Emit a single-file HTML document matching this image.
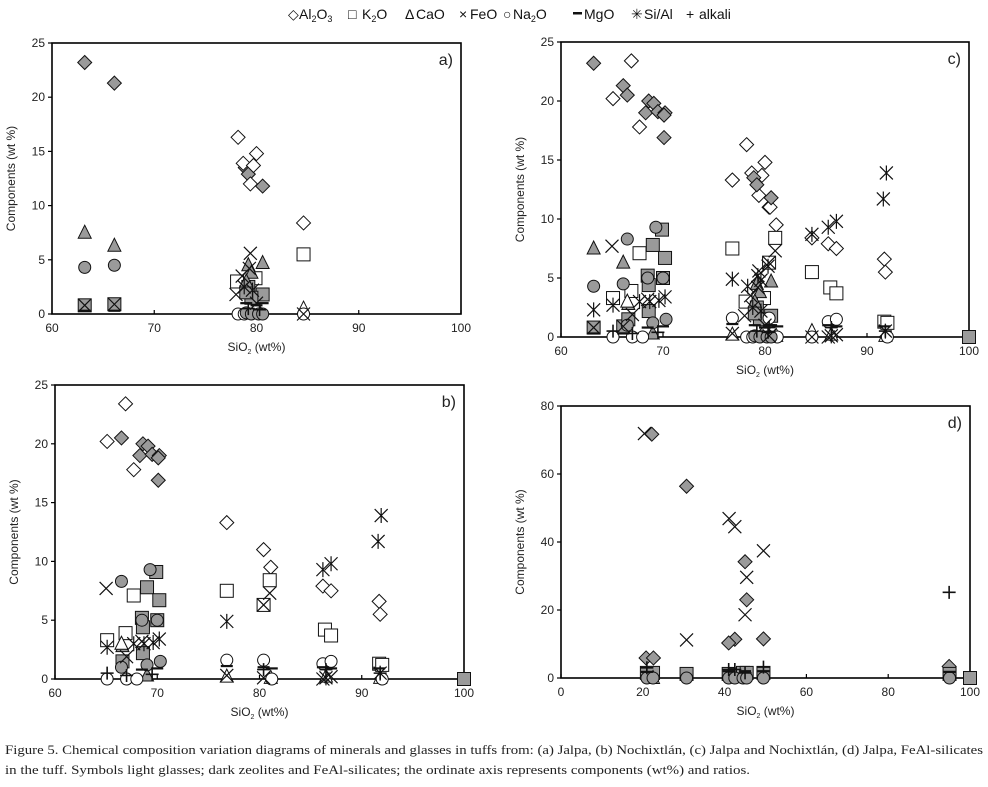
<!DOCTYPE html>
<html><head><meta charset="utf-8"><style>
html,body{margin:0;padding:0;background:#fff;}
svg{display:block;}
</style></head><body>
<svg id="fig" width="988" height="787" viewBox="0 0 988 787" xmlns="http://www.w3.org/2000/svg" font-family="Liberation Sans, sans-serif">
<g font-size="14" fill="#111">
<g><text x="288" y="19">◇</text><text x="299" y="19">Al<tspan font-size="9" dy="3">2</tspan><tspan dy="-3">O</tspan><tspan font-size="9" dy="3">3</tspan></text></g>
<g><text x="348" y="19">□</text><text x="362" y="19">K<tspan font-size="9" dy="3">2</tspan><tspan dy="-3">O</tspan></text></g>
<g><text x="405" y="19">Δ</text><text x="416" y="19">CaO</text></g>
<g><text x="459" y="19">×</text><text x="470" y="19">FeO</text></g>
<g><text x="503" y="19">○</text><text x="513" y="19">Na<tspan font-size="9" dy="3">2</tspan><tspan dy="-3">O</tspan></text></g>
<g><rect x="573" y="12" width="9" height="2.5" fill="#111"/><text x="584" y="19">MgO</text></g>
<g><text x="631" y="19">✳</text><text x="644" y="19">Si/Al</text></g>
<g><text x="686" y="19">+</text><text x="699" y="19">alkali</text></g>
</g>
<g id="panels"></g>
<g font-family="Liberation Serif, serif" font-size="13" fill="#222">
<text x="5" y="754" textLength="978" lengthAdjust="spacingAndGlyphs">Figure 5. Chemical composition variation diagrams of minerals and glasses in tuffs from: (a) Jalpa, (b) Nochixtlán, (c) Jalpa and Nochixtlán, (d) Jalpa, FeAl-silicates</text>
<text x="5" y="774" textLength="745" lengthAdjust="spacingAndGlyphs">in the tuff. Symbols light glasses; dark zeolites and FeAl-silicates; the ordinate axis represents components (wt%) and ratios.</text>
</g>
</svg>
<script>
// ---- Panel a data ----
const aAlDark=[[63.2,23.2],[66.1,21.3],[78.9,13.5],[79.2,12.9],[80.6,11.8]];
const aAlLight=[[78.2,16.3],[80,14.8],[78.7,13.9],[79.7,13.7],[79.4,12.0],[84.6,8.4]];
const aKDark=[[63.2,0.8],[66.1,0.9],[79.2,2.5],[80.6,1.8],[79.5,1.5],[79.0,2.0]];
const aKLight=[[78.1,3.0],[79.9,3.3],[84.6,5.5]];
const aCaDark=[[63.2,7.5],[66.1,6.3],[80.6,4.7],[79.2,4.5],[79.5,3.8],[79,3.0]];
const aCaLight=[[84.6,0.5]];
const aFe=[[63.2,0.8],[66.1,0.9],[79.4,5.6],[79.3,4.2],[78.6,3.5],[78.0,1.8],[80,1.0],[84.6,0]];
const aNaDark=[[63.2,4.3],[66.1,4.5],[79,0.1],[79.5,0],[80.2,0],[80.6,0]];
const aNaLight=[[78.2,0],[78.8,0],[84.6,0]];
const aMg=[[63.2,0.3],[66.1,0.3],[79,1.0],[80,0.8],[80.6,1.0]];
const aSiAl=[[78.8,2.5],[79.6,2.2]];
const aAlk=[[79.2,0.5],[80.3,0.4]];
// ---- Panel b data ----
const bAlLight=[[66.9,23.4],[65.1,20.2],[67.7,17.8],[76.8,13.3],[80.4,11.0],[81.1,9.5],[86.2,7.9],[87,7.5],[91.7,6.6],[91.8,5.5]];
const bAlDark=[[66.5,20.5],[68.6,20.0],[69.1,19.8],[68.3,19.0],[69.5,19.1],[70.2,19.0],[70.1,18.8],[70.1,16.9]];
const bKDark=[[69.9,9.1],[69,7.8],[70.2,6.7],[68.5,5.2],[68.6,4.4],[70,5.0],[68.6,2.2],[66.6,1.5],[100,0]];
const bKLight=[[67.7,7.1],[76.8,7.5],[81,8.4],[80.4,6.3],[86.4,4.2],[87,3.7],[65.1,3.3],[66.9,3.9],[91.7,1.3],[92,1.2]];
const bCaDark=[[66.6,2.8],[69,0.3]];
const bCaLight=[[76.8,0.2],[66.5,3.0],[81.1,0.1],[86.5,0.2],[91.8,0.1]];
const bFe=[[65,7.7],[81,7.3],[80.4,6.3],[67,1.9],[68.5,3.2],[76.8,0.3],[80.4,0.1],[86.2,0],[87,0.2]];
const bNaDark=[[66.5,8.3],[69.3,9.3],[68.5,5.0],[70,5.0],[70.3,1.5],[66.5,1.0],[69,1.2]];
const bNaLight=[[76.8,1.6],[80.4,1.6],[86.2,1.3],[87,1.5],[65.1,0],[67,0],[68,0],[81.2,0],[92,0]];
const bMg=[[76.8,1.1],[80.4,1.0],[81.2,0.9],[86.2,1.0],[87,0.9],[91.7,0.9],[68.5,0.8],[70,0.9]];
const bSiAl=[[76.8,4.9],[91.9,13.9],[91.6,11.7],[87,9.8],[86.2,9.3],[65.1,2.7],[67.7,3.0],[68.7,3.0],[69.6,3.1],[70.2,3.4],[86.5,0.1],[91.8,0.5]];
const bAlk=[[65.1,0.5],[80.4,0.8],[86.5,0.8],[91.8,0.5],[67,0.3],[69.5,0.4]];
// ---- Panel c extras (c = a + b + these) ----
const cSiAlExtra=[[84.6,8.7],[63.2,2.3],[79.3,5.2],[79.6,4.8],[80.3,6.0],[78.3,4.3]];
const cAlLightExtra=[[76.8,13.3],[80.5,11.0]];
// ---- Panel d data ----
const dAlDark=[[22.2,71.7],[30.7,56.4],[45,34.2],[45.4,23],[42.5,11.4],[41,10.3],[49.5,11.5],[20.8,5.9],[22.6,5.9],[94.9,3.4]];
const dKDark=[[21,1.5],[22.5,1.5],[30.7,1.2],[41,1.2],[42.5,1.0],[44.5,1.5],[45.4,1.5],[49.5,1.5],[95,1.2],[100,0]];
const dCaLight=[[22.5,0]];
const dFe=[[20.4,71.9],[41.1,46.9],[42.5,44.5],[49.5,37.4],[45.4,29.6],[45,18.6],[30.7,11.2]];
const dNaDark=[[21,0],[22.5,0],[30.7,0],[41,0],[42.5,0],[44.5,0],[45.4,0],[49.5,0],[95,0]];
const dMg=[[21,1.8],[41,2.0],[45,2.0],[49.5,2.0],[95,1.8]];
const dAlk=[[94.9,25.2],[21,3],[41,2.5],[42.5,2.5],[49.5,3.2],[45,1.5]];
// ---- tick labels ----
const ticksX6=[60,70,80,90,100];
const ticksY25=[0,5,10,15,20,25];
const ticksX0=[0,20,40,60,80,100];
const ticksY80=[0,20,40,60,80];

const NS='http://www.w3.org/2000/svg';
const DARK='#9a9a9a';
function el(tag,attrs,parent){const e=document.createElementNS(NS,tag);for(const k in attrs)e.setAttribute(k,attrs[k]);parent.appendChild(e);return e;}

function marker(g,type,cx,cy,fill){
  let m;const s=6.5;const sw=1;
  if(type==='diamond'){m=el('polygon',{points:`${cx},${cy-s-0.5} ${cx+s+0.5},${cy} ${cx},${cy+s+0.5} ${cx-s-0.5},${cy}`,fill:fill,stroke:'#111','stroke-width':sw},g);}
  else if(type==='square'){m=el('rect',{x:cx-s,y:cy-s,width:2*s,height:2*s,fill:fill,stroke:'#111','stroke-width':sw},g);}
  else if(type==='triangle'){m=el('polygon',{points:`${cx},${cy-s-1} ${cx+s},${cy+s-1} ${cx-s},${cy+s-1}`,fill:fill,stroke:'#111','stroke-width':sw},g);}
  else if(type==='circle'){m=el('circle',{cx:cx,cy:cy,r:s-0.5,fill:fill,stroke:'#111','stroke-width':sw},g);}
  else if(type==='x'){m=el('path',{d:`M${cx-s},${cy-s}L${cx+s},${cy+s}M${cx-s},${cy+s}L${cx+s},${cy-s}`,fill:'none',stroke:'#111','stroke-width':1.2},g);}
  else if(type==='dash'){m=el('path',{d:`M${cx-6},${cy}L${cx+6},${cy}`,stroke:'#111','stroke-width':2.2},g);}
  else if(type==='ast'){m=el('path',{d:`M${cx-s},${cy-s}L${cx+s},${cy+s}M${cx-s},${cy+s}L${cx+s},${cy-s}M${cx},${cy-s-1}L${cx},${cy+s+1}`,fill:'none',stroke:'#111','stroke-width':1.2},g);}
  else if(type==='plus'){m=el('path',{d:`M${cx-s},${cy}L${cx+s},${cy}M${cx},${cy-s}L${cx},${cy+s}`,fill:'none',stroke:'#111','stroke-width':1.6},g);}
  return m;
}

function panel(cfg){
  const root=document.getElementById('panels');
  const g=el('g',{},root);
  
  
  const sx=v=>cfg.L+(v-cfg.x0)*(cfg.R-cfg.L)/(cfg.x1-cfg.x0);
  const sy=v=>cfg.B-(v-cfg.y0)*(cfg.B-cfg.T)/(cfg.y1-cfg.y0);
  const frame=el('rect',{x:cfg.L,y:cfg.T,width:cfg.R-cfg.L,height:cfg.B-cfg.T,fill:'#fff',stroke:'#000','stroke-width':1.6},g);
  
  
  const ax=el('g',{'font-size':12,fill:'#222'},g);
  
  
  cfg.tx.forEach(t=>{
    const x=sx(t);
    el('line',{x1:x,y1:cfg.B,x2:x,y2:cfg.B-4,stroke:'#000','stroke-width':1.2},ax);
    const tl=el('text',{x:x,y:cfg.B+18,'text-anchor':'middle'},ax);
    tl.textContent=t;
    
    
  });
  cfg.ty.forEach(t=>{
    const y=sy(t);
    el('line',{x1:cfg.L,y1:y,x2:cfg.L-4,y2:y,stroke:'#000','stroke-width':1.2},ax);
    const tl=el('text',{x:cfg.L-7,y:y+4,'text-anchor':'end'},ax);
    tl.textContent=t;
    
    
  });
  const xt=el('text',{x:(cfg.L+cfg.R)/2,y:cfg.B+37,'text-anchor':'middle','font-size':12},ax);
  xt.innerHTML='SiO<tspan font-size="7" dy="3">2</tspan><tspan dy="-3"> (wt%)</tspan>';
  
  
  const yt=el('text',{x:0,y:0,'text-anchor':'middle','font-size':12,transform:`translate(${cfg.L-37},${(cfg.T+cfg.B)/2}) rotate(-90)`},ax);
  yt.textContent='Components (wt %)';
  
  
  const pl=el('text',{x:cfg.R-8,y:cfg.T+22,'text-anchor':'end','font-size':16},ax);
  pl.textContent=cfg.id+')';
  
  
  const mg=el('g',{},g);
  
  
  cfg.series.forEach(s=>{
    s.data.forEach(p=>{
      const m=marker(mg,s.type,sx(p[0]),sy(p[1]),s.fill);
      
      
    });
  });
}
function S(name,type,fill,data){return {name:name,type:type,fill:fill,data:data};}

panel({id:'a',L:52,R:461,T:43,B:314,x0:60,x1:100,y0:0,y1:25,tx:ticksX6,ty:ticksY25,series:[
 S('al2o3','diamond',DARK,aAlDark),S('al2o3','diamond','#fff',aAlLight),
 S('k2o','square','#fff',aKLight),S('k2o','square',DARK,aKDark),
 S('cao','triangle',DARK,aCaDark),S('cao','triangle','#fff',aCaLight),
 S('na2o','circle','#fff',aNaLight),S('na2o','circle',DARK,aNaDark),
 S('feo','x','none',aFe),S('mgo','dash','none',aMg),S('si-al','ast','none',aSiAl),S('alkali','plus','none',aAlk)]});

panel({id:'b',L:55,R:464,T:385,B:679,x0:60,x1:100,y0:0,y1:25,tx:ticksX6,ty:ticksY25,series:[
 S('al2o3','diamond','#fff',bAlLight),S('al2o3','diamond',DARK,bAlDark),
 S('k2o','square','#fff',bKLight),S('k2o','square',DARK,bKDark),
 S('cao','triangle',DARK,bCaDark),S('cao','triangle','#fff',bCaLight),
 S('na2o','circle','#fff',bNaLight),S('na2o','circle',DARK,bNaDark),
 S('feo','x','none',bFe),S('mgo','dash','none',bMg),S('si-al','ast','none',bSiAl),S('alkali','plus','none',bAlk)]});

panel({id:'c',L:561,R:969,T:42,B:337,x0:60,x1:100,y0:0,y1:25,tx:ticksX6,ty:ticksY25,series:[
 S('al2o3','diamond','#fff',bAlLight.concat(aAlLight,cAlLightExtra)),S('al2o3','diamond',DARK,aAlDark.concat(bAlDark)),
 S('k2o','square','#fff',aKLight.concat(bKLight)),S('k2o','square',DARK,aKDark.concat(bKDark)),
 S('cao','triangle',DARK,aCaDark.concat(bCaDark)),S('cao','triangle','#fff',aCaLight.concat(bCaLight)),
 S('na2o','circle','#fff',aNaLight.concat(bNaLight)),S('na2o','circle',DARK,aNaDark.concat(bNaDark)),
 S('feo','x','none',aFe.concat(bFe)),S('mgo','dash','none',aMg.concat(bMg)),
 S('si-al','ast','none',aSiAl.concat(bSiAl,cSiAlExtra)),S('alkali','plus','none',aAlk.concat(bAlk))]});

panel({id:'d',L:561,R:970,T:406,B:678,x0:0,x1:100,y0:0,y1:80,tx:ticksX0,ty:ticksY80,series:[
 S('al2o3','diamond',DARK,dAlDark),S('k2o','square',DARK,dKDark),S('cao','triangle','#fff',dCaLight),
 S('na2o','circle',DARK,dNaDark),S('feo','x','none',dFe),S('mgo','dash','none',dMg),S('alkali','plus','none',dAlk)]});
</script>
</body></html>
